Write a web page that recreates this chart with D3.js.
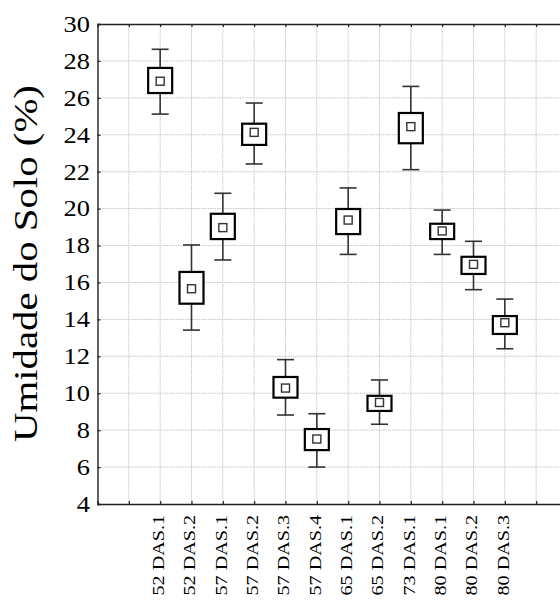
<!DOCTYPE html>
<html>
<head>
<meta charset="utf-8">
<script src="https://cdn.jsdelivr.net/npm/d3@7/dist/d3.min.js"></script>
<style>
  html, body { margin: 0; padding: 0; background: #fff; }
  svg { display: block; }
  text { font-family: "Liberation Serif", "Times New Roman", serif; fill: #000; }
</style>
</head>
<body>
<svg id="chart" width="560" height="600"></svg>
<script>
// Soil moisture by sampling date: mean, box (lower/upper) and whiskers (lower/upper)
const categories = ["52 DAS.1", "52 DAS.2", "57 DAS.1", "57 DAS.2", "57 DAS.3", "57 DAS.4",
                    "65 DAS.1", "65 DAS.2", "73 DAS.1", "80 DAS.1", "80 DAS.2", "80 DAS.3"];
const means   = [26.90, 15.66, 18.97, 24.13, 10.28, 7.52, 19.38, 9.50, 24.44, 18.79, 16.98, 13.82];
const boxLow  = [26.26, 14.85, 18.35, 23.45, 9.76, 6.92, 18.62, 9.04, 23.54, 18.35, 16.46, 13.21];
const boxHigh = [27.62, 16.57, 19.72, 24.60, 10.88, 8.06, 19.98, 9.86, 25.18, 19.18, 17.39, 14.18];
const whiskerLow  = [25.12, 13.42, 17.22, 22.42, 8.82, 6.00, 17.52, 8.32, 22.11, 17.52, 15.61, 12.41];
const whiskerHigh = [28.63, 18.03, 20.83, 25.72, 11.82, 8.89, 21.12, 10.72, 26.62, 19.92, 18.23, 15.10];
const yTicks = [4, 6, 8, 10, 12, 14, 16, 18, 20, 22, 24, 26, 28, 30];
const yTitle = "Umidade do Solo (%)";

const svg = d3.select("#chart");
const plotLeft = 97.5, plotTop = 24, plotBottom = 504, plotRight = 567.5;

// slot 0 is the left frame; categories sit in slots 2..13, with empty slots around them
const slots = 15;
const x = d3.scaleLinear().domain([0, slots]).range([plotLeft, plotRight]);
const y = d3.scaleLinear().domain([4, 30]).range([plotBottom, plotTop]);
const slotOf = i => i + 2;
const gridSlots = d3.range(1, slots);

// grid
const grid = svg.append("g");
grid.selectAll("line.v").data(gridSlots).join("line").attr("class", "v")
  .attr("x1", d => x(d)).attr("x2", d => x(d))
  .attr("y1", plotTop).attr("y2", plotBottom)
  .attr("stroke", "#c8c8c8").attr("stroke-width", 1).attr("stroke-dasharray", "1.5,0.8");
grid.selectAll("line.h").data(yTicks.slice(1, -1)).join("line").attr("class", "h")
  .attr("x1", plotLeft).attr("x2", 560)
  .attr("y1", d => y(d)).attr("y2", d => y(d))
  .attr("stroke", "#c8c8c8").attr("stroke-width", 1).attr("stroke-dasharray", "1.5,0.8");

// axes (ticks pointing inward)
const axisColor = "#222";
const gl = svg.append("g").attr("transform", `translate(${plotLeft},0)`)
  .call(d3.axisRight(y).tickValues(yTicks).tickSize(3).tickFormat(""));
const gt = svg.append("g").attr("transform", `translate(0,${plotTop})`)
  .call(d3.axisBottom(x).tickValues(gridSlots).tickSize(3).tickFormat(""));
const gb = svg.append("g").attr("transform", `translate(0,${plotBottom})`)
  .call(d3.axisTop(x).tickValues(gridSlots).tickSize(3).tickFormat(""));
[gl, gt, gb].forEach(g => {
  g.select(".domain").attr("stroke", axisColor).attr("stroke-width", 1.4);
  g.selectAll(".tick line").attr("stroke", axisColor).attr("stroke-width", 1.2);
});

// y tick labels
svg.append("g").selectAll("g").data(yTicks).join("g")
  .attr("transform", d => `translate(90,${y(d)}) scale(1.15,1)`)
  .append("text")
  .attr("text-anchor", "end").attr("dy", "0.34em")
  .style("font-size", "23px")
  .text(d => d);

// y title
svg.append("g")
  .attr("transform", `translate(37,${(85 + 442) / 2}) rotate(-90) scale(1.2,1)`)
  .append("text").attr("text-anchor", "middle")
  .style("font-size", "34px")
  .text(yTitle);

// x labels
svg.append("g").selectAll("g").data(categories).join("g")
  .attr("transform", (d, i) => `translate(${x(slotOf(i)) + 3.8},515) rotate(-90) scale(1.22,1)`)
  .append("text").attr("text-anchor", "end")
  .style("font-size", "16.5px")
  .text(d => d);

// box plots
const boxW = 24, capW = 17, meanW = 8;
const marks = svg.append("g").selectAll("g").data(categories).join("g")
  .attr("transform", (d, i) => `translate(${x(slotOf(i))},0)`);

const whisker = (sel, y1, y2) => sel.append("line")
  .attr("x1", 0).attr("x2", 0)
  .attr("y1", y1).attr("y2", y2)
  .attr("stroke", "#333").attr("stroke-width", 1.6);
const cap = (sel, yv) => sel.append("line")
  .attr("x1", -capW / 2).attr("x2", capW / 2)
  .attr("y1", yv).attr("y2", yv)
  .attr("stroke", "#333").attr("stroke-width", 1.6);

whisker(marks, (d, i) => y(whiskerHigh[i]), (d, i) => y(boxHigh[i]));
whisker(marks, (d, i) => y(boxLow[i]), (d, i) => y(whiskerLow[i]));
cap(marks, (d, i) => y(whiskerHigh[i]));
cap(marks, (d, i) => y(whiskerLow[i]));

marks.append("rect")
  .attr("x", -boxW / 2).attr("width", boxW)
  .attr("y", (d, i) => y(boxHigh[i]))
  .attr("height", (d, i) => y(boxLow[i]) - y(boxHigh[i]))
  .attr("fill", "#fff").attr("stroke", "#000").attr("stroke-width", 2.2);
marks.append("rect")
  .attr("x", -meanW / 2).attr("width", meanW)
  .attr("y", (d, i) => y(means[i]) - meanW / 2)
  .attr("height", meanW)
  .attr("fill", "#fff").attr("stroke", "#333").attr("stroke-width", 1.4);
</script>
</body>
</html>
